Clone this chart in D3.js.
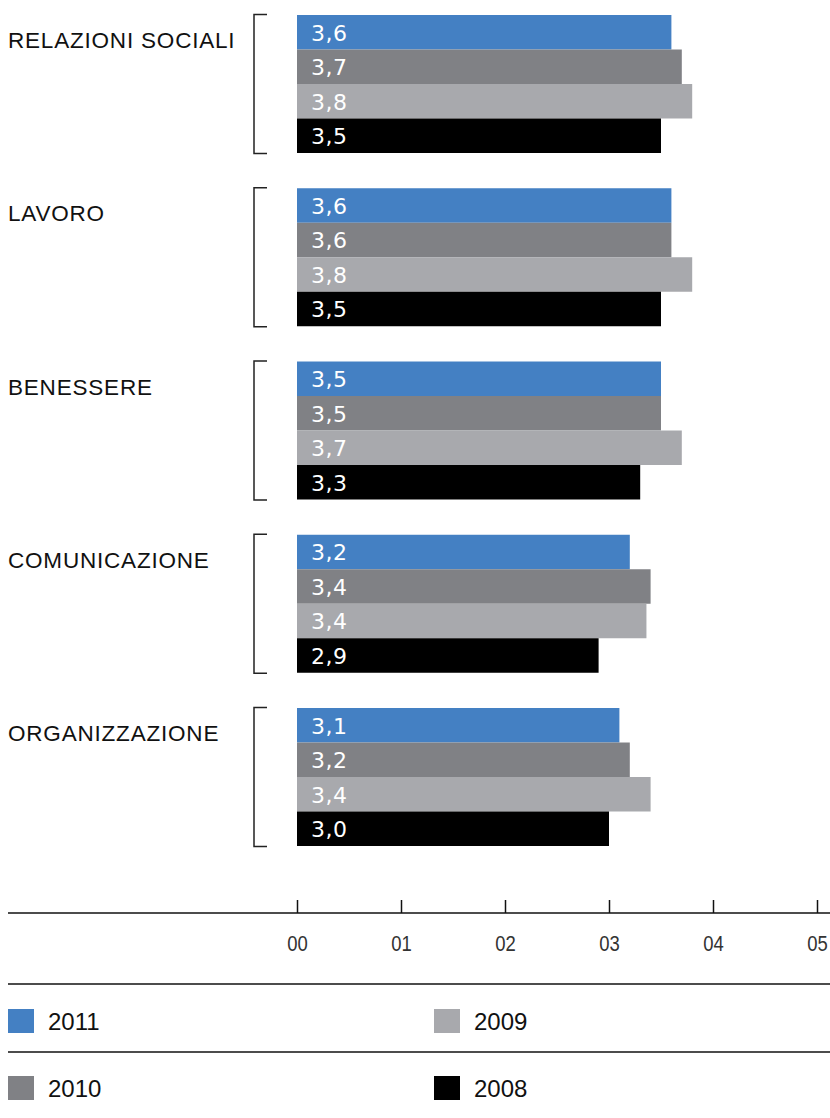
<!DOCTYPE html>
<html><head><meta charset="utf-8">
<script src="https://cdn.jsdelivr.net/npm/d3@7"></script>
<style>
html,body{margin:0;padding:0;background:#fff;}
</style></head>
<body>
<svg id="chart" width="830" height="1118" font-family="Liberation Sans, Arial, sans-serif"></svg>
<script>
const categories = ["RELAZIONI SOCIALI","LAVORO","BENESSERE","COMUNICAZIONE","ORGANIZZAZIONE"];
const series = ["2011","2010","2009","2008"];
const values2011 = [3.6, 3.6, 3.5, 3.2, 3.1];
const values2010 = [3.7, 3.6, 3.5, 3.4, 3.2];
const values2009 = [3.8, 3.8, 3.7, 3.36, 3.4];
const values2008 = [3.5, 3.5, 3.3, 2.9, 3.0];
const tickValues = [0,1,2,3,4,5];
const colors = ["#4480c3","#808185","#a8a9ad","#000000"];

const seriesValues = [values2011, values2010, values2009, values2008];
const svg = d3.select("#chart");

const x = d3.scaleLinear().domain([0,5]).range([297,817]);
const y = d3.scaleBand().domain(categories).range([15,846]).paddingInner(0.2035).paddingOuter(0);
const ys = d3.scaleBand().domain(series).range([0,y.bandwidth()]).padding(0);
const fmt = v => d3.format(".1f")(v).replace(".", ",");

const groups = svg.selectAll("g.group").data(categories).join("g")
  .attr("class","group")
  .attr("transform", d => `translate(0,${y(d)})`);

groups.append("text")
  .attr("x", 8).attr("y", 33)
  .style("font-family", '"Liberation Sans", Arial, sans-serif')
  .attr("font-size", 22.5).attr("letter-spacing", "0.8px")
  .attr("fill", "#111")
  .text(d => d);

groups.append("path")
  .attr("d", `M267,${-0.5}H254V${y.bandwidth()+0.5}H267`)
  .attr("fill","none").attr("stroke","#222").attr("stroke-width",1.5);

groups.each(function(cat, ci){
  const g = d3.select(this);
  series.forEach((s, si) => {
    const v = seriesValues[si][ci];
    g.append("rect")
      .attr("x", x(0)).attr("y", ys(s))
      .attr("width", x(v) - x(0)).attr("height", ys.bandwidth())
      .attr("fill", colors[si]);
    g.append("text")
      .attr("x", x(0) + 14).attr("y", ys(s) + ys.bandwidth()/2 + 8.3)
      .style("font-family", '"DejaVu Sans", sans-serif')
      .attr("font-size", 22).attr("letter-spacing","0.5px")
      .attr("fill", "#fff")
      .text(fmt(v));
  });
});

// axis
const axisY = 913;
svg.append("line").attr("x1",8).attr("x2",830).attr("y1",axisY).attr("y2",axisY)
  .attr("stroke","#111").attr("stroke-width",1.5);
const axis = d3.axisBottom(x).tickValues(tickValues).tickSize(-13).tickPadding(22)
  .tickFormat(d3.format("02d"));
const ag = svg.append("g").attr("transform",`translate(0,${axisY})`).call(axis);
ag.select(".domain").remove();
ag.selectAll(".tick line").attr("stroke","#111").attr("stroke-width",1.5);
ag.selectAll(".tick text").attr("font-size",22).attr("fill","#333")
  .style("font-family",'"Liberation Sans", Arial, sans-serif')
  .attr("transform","scale(0.84,1)");

// legend
[984, 1052].forEach(ly => {
  svg.append("line").attr("x1",8).attr("x2",830).attr("y1",ly).attr("y2",ly)
    .attr("stroke","#111").attr("stroke-width",1.5);
});
const legendPos = [[8,1021],[8,1088],[434,1021],[434,1088]];
series.forEach((s, si) => {
  const [lx, ly] = legendPos[si];
  svg.append("rect").attr("x",lx).attr("y",ly-12).attr("width",26).attr("height",24)
    .attr("fill",colors[si]);
  svg.append("text").attr("x",lx+40).attr("y",ly+9)
    .style("font-family", '"Liberation Sans", Arial, sans-serif')
    .attr("font-size",24).attr("fill","#111").text(s);
});
</script>
</body></html>
